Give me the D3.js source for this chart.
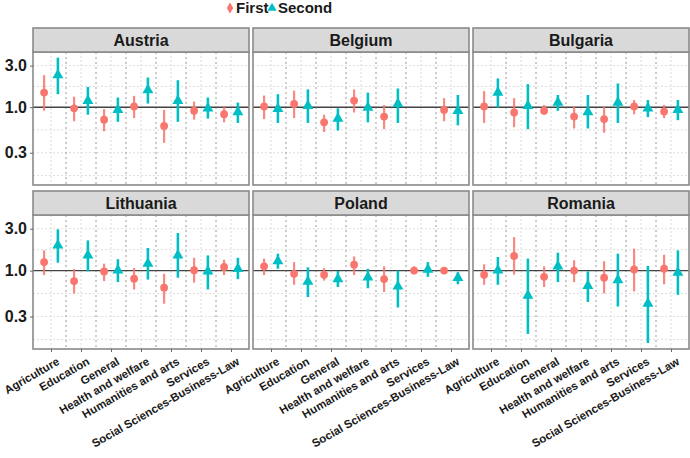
<!DOCTYPE html>
<html>
<head>
<meta charset="utf-8">
<script src="https://cdn.jsdelivr.net/npm/d3@7"></script>
<style>
  body { margin: 0; background: #fff; }
  svg { display: block; font-family: "Liberation Sans", Arial, sans-serif; }
</style>
</head>
<body>
<div id="chart"></div>
<script>
// facets, categories and series
const countries = ["Austria", "Belgium", "Bulgaria", "Lithuania", "Poland", "Romania"];
const fields = ["Agriculture", "Education", "General", "Health and welfare",
  "Humanities and arts", "Services", "Social Sciences-Business-Law"];
const seriesNames = ["First", "Second"];
const yTicks = [0.3, 1.0, 3.0];

// [estimate, lower, upper] per field, null where missing
const austriaFirst = [[1.47, 0.91, 2.33], [0.97, 0.69, 1.32], [0.72, 0.53, 0.95], [1.02, 0.75, 1.35], [0.61, 0.39, 0.93], [0.91, 0.72, 1.16], [0.83, 0.67, 1.03]];
const austriaSecond = [[2.33, 1.41, 3.7], [1.18, 0.82, 1.71], [0.93, 0.68, 1.29], [1.57, 1.10, 2.19], [1.18, 0.68, 2.04], [0.97, 0.74, 1.29], [0.88, 0.66, 1.13]];
const belgiumFirst = [[1.02, 0.73, 1.36], [1.09, 0.75, 1.55], [0.67, 0.52, 0.82], [1.19, 0.87, 1.6], [0.78, 0.56, 1.06], null, [0.93, 0.69, 1.27]];
const belgiumSecond = [[0.96, 0.66, 1.41], [1.04, 0.66, 1.6], [0.74, 0.54, 0.97], [0.99, 0.67, 1.47], [1.09, 0.66, 1.64], null, [0.91, 0.62, 1.38]];
const bulgariaFirst = [[1.02, 0.66, 1.53], [0.87, 0.59, 1.27], [0.91, 0.82, 1.06], [0.78, 0.57, 1.02], [0.73, 0.51, 1.02], [1.02, 0.83, 1.21], [0.89, 0.75, 1.06]];
const bulgariaSecond = [[1.47, 0.99, 2.14], [1.04, 0.56, 1.84], [1.13, 0.91, 1.38], [0.88, 0.57, 1.38], [1.13, 0.66, 1.87], [0.97, 0.77, 1.21], [0.93, 0.71, 1.21]];
const lithuaniaFirst = [[1.25, 0.89, 1.70], [0.76, 0.55, 1.04], [0.98, 0.76, 1.2], [0.81, 0.61, 1.07], [0.64, 0.42, 0.92], [1.01, 0.73, 1.4], [1.1, 0.89, 1.33]];
const lithuaniaSecond = [[1.94, 1.23, 2.95], [1.49, 0.98, 2.21], [1.01, 0.74, 1.35], [1.2, 0.79, 1.81], [1.49, 0.83, 2.68], [0.98, 0.61, 1.49], [1.05, 0.8, 1.4]];
const polandFirst = [[1.12, 0.89, 1.37], [0.92, 0.69, 1.25], [0.9, 0.77, 1.07], [1.17, 0.89, 1.45], [0.8, 0.57, 1.12], [1.0, 0.91, 1.12], [1.0, 0.92, 1.08]];
const polandSecond = [[1.28, 1.05, 1.56], [0.75, 0.5, 1.09], [0.8, 0.65, 0.99], [0.84, 0.63, 1.05], [0.66, 0.38, 1.0], [1.03, 0.85, 1.25], [0.83, 0.7, 0.96]];
const romaniaFirst = [[0.9, 0.69, 1.18], [1.47, 0.9, 2.41], [0.85, 0.65, 1.12], [1.0, 0.74, 1.31], [0.83, 0.55, 1.28], [1.03, 0.58, 1.78], [1.05, 0.7, 1.52]];
const romaniaSecond = [[1.01, 0.69, 1.43], [0.52, 0.19, 1.37], [1.12, 0.74, 1.6], [0.67, 0.44, 0.98], [0.78, 0.39, 1.56], [0.42, 0.15, 1.13], [0.95, 0.53, 1.7]];

const seriesByCountry = {
  Austria: [austriaFirst, austriaSecond],
  Belgium: [belgiumFirst, belgiumSecond],
  Bulgaria: [bulgariaFirst, bulgariaSecond],
  Lithuania: [lithuaniaFirst, lithuaniaSecond],
  Poland: [polandFirst, polandSecond],
  Romania: [romaniaFirst, romaniaSecond]
};

const width = 690, height = 458;
const colors = ["#F8766D", "#00BFC4"];

const panelW = 216;
const colX = [33, 253, 473];
const stripH = 24;
const rows = [{ top: 28, bottom: 185 }, { top: 191, bottom: 349 }];

const svg = d3.select("#chart").append("svg")
  .attr("width", width)
  .attr("height", height);

// Shared scales
const x = d3.scalePoint().domain(fields).range([0, panelW]).padding(0.6);
const step = x.step();
const dodge = step * 0.23;

function yScale(r) {
  return d3.scaleLog().domain([0.128, 4.3]).range([r.bottom, r.top + stripH]);
}

// minor breaks halfway (in log space) between the major ones
const minorTicks = [Math.pow(10, (Math.log10(0.3) * 3) / 2), Math.sqrt(0.3), Math.sqrt(3)];

countries.forEach((country, i) => {
  const r = rows[Math.floor(i / 3)];
  const c = i % 3;
  const y = yScale(r);
  const g = svg.append("g").attr("transform", `translate(${colX[c]},0)`);
  const plotTop = r.top + stripH;

  // grid
  g.selectAll(".hgrid")
    .data(yTicks.concat(minorTicks))
    .join("line")
    .attr("x1", 0).attr("x2", panelW)
    .attr("y1", d => y(d)).attr("y2", d => y(d))
    .attr("stroke", "#d4d4d4")
    .attr("stroke-width", 0.8)
    .attr("stroke-dasharray", "2,2");

  g.selectAll(".vgrid")
    .data(fields)
    .join("line")
    .attr("x1", d => x(d)).attr("x2", d => x(d))
    .attr("y1", plotTop).attr("y2", r.bottom)
    .attr("stroke", "#d4d4d4")
    .attr("stroke-width", 0.8)
    .attr("stroke-dasharray", "2,2");

  // separators between categories
  g.selectAll(".sep")
    .data(fields.slice(1))
    .join("line")
    .attr("x1", d => x(d) - step / 2).attr("x2", d => x(d) - step / 2)
    .attr("y1", plotTop).attr("y2", r.bottom)
    .attr("stroke", "#9a9a9a")
    .attr("stroke-width", 1)
    .attr("stroke-dasharray", "2,3");

  // reference line at 1
  g.append("line")
    .attr("x1", 0).attr("x2", panelW)
    .attr("y1", y(1)).attr("y2", y(1))
    .attr("stroke", "#444")
    .attr("stroke-width", 1.4);

  // point ranges
  seriesByCountry[country].forEach((vals, s) => {
    const pts = vals.map((v, k) => v ? { field: fields[k], est: v[0], lo: v[1], hi: v[2] } : null)
      .filter(d => d);
    const off = s === 0 ? -dodge : dodge;

    g.selectAll(".bar" + s)
      .data(pts)
      .join("line")
      .attr("x1", d => x(d.field) + off).attr("x2", d => x(d.field) + off)
      .attr("y1", d => y(d.lo)).attr("y2", d => y(d.hi))
      .attr("stroke", colors[s])
      .attr("stroke-opacity", s === 0 ? 0.85 : 1)
      .attr("stroke-width", s === 0 ? 2.2 : 2.6);

    if (s === 0) {
      g.selectAll(".pt0")
        .data(pts)
        .join("circle")
        .attr("cx", d => x(d.field) + off)
        .attr("cy", d => y(d.est))
        .attr("r", 3.9)
        .attr("fill", colors[s]);
    } else {
      g.selectAll(".pt1")
        .data(pts)
        .join("path")
        .attr("d", d3.symbol(d3.symbolTriangle, 52))
        .attr("transform", d => `translate(${x(d.field) + off},${y(d.est)})`)
        .attr("fill", colors[s]);
    }
  });

  // panel border
  g.append("rect")
    .attr("x", 0).attr("y", plotTop)
    .attr("width", panelW).attr("height", r.bottom - plotTop)
    .attr("fill", "none")
    .attr("stroke", "#8a8a8a")
    .attr("stroke-width", 1.6);

  // strip
  g.append("rect")
    .attr("x", 0).attr("y", r.top)
    .attr("width", panelW).attr("height", stripH)
    .attr("fill", "#d9d9d9")
    .attr("stroke", "#8a8a8a")
    .attr("stroke-width", 1.6);

  g.append("text")
    .attr("x", panelW / 2)
    .attr("y", r.top + stripH / 2)
    .attr("dy", "0.36em")
    .attr("text-anchor", "middle")
    .attr("fill", "#1a1a1a")
    .style("font-size", "16px")
    .style("font-weight", "700")
    .text(country);

  // y axis on the left column
  if (c === 0) {
    const ya = g.append("g")
      .call(d3.axisLeft(y).tickValues(yTicks).tickSize(3).tickPadding(3).tickFormat(d3.format(".1f")));
    ya.select(".domain").remove();
    ya.selectAll("line").attr("stroke", "#666");
    ya.selectAll("text")
      .attr("fill", "#1a1a1a")
      .style("font-size", "16px")
      .style("font-weight", "700")
      .style("font-family", "'Liberation Sans', Arial, sans-serif");
  }

  // x axis on the bottom row
  if (i >= 3) {
    const xa = g.append("g")
      .attr("transform", `translate(0,${r.bottom})`)
      .call(d3.axisBottom(x).tickSize(3).tickPadding(2));
    xa.select(".domain").remove();
    xa.selectAll("line").attr("stroke", "#666");
    xa.selectAll("text")
      .attr("text-anchor", "end")
      .attr("fill", "#1a1a1a")
      .attr("dy", "0.75em")
      .attr("transform", "translate(2,3) rotate(-30)")
      .style("font-size", "11.5px")
      .style("font-weight", "700")
      .style("font-family", "'Liberation Sans', Arial, sans-serif");
  }
});

// legend
const legend = svg.append("g").attr("transform", "translate(230,8)");
legend.append("path")
  .attr("d", d3.symbol(d3.symbolDiamond, 36))
  .attr("fill", colors[0]);
legend.append("text")
  .attr("x", 6).attr("dy", "0.36em")
  .attr("fill", "#1a1a1a")
  .style("font-size", "15px").style("font-weight", "700")
  .text(seriesNames[0]);
legend.append("path")
  .attr("d", d3.symbol(d3.symbolTriangle, 36))
  .attr("transform", "translate(42,0)")
  .attr("fill", colors[1]);
legend.append("text")
  .attr("x", 48).attr("dy", "0.36em")
  .attr("fill", "#1a1a1a")
  .style("font-size", "15px").style("font-weight", "700")
  .text(seriesNames[1]);
</script>
</body>
</html>
